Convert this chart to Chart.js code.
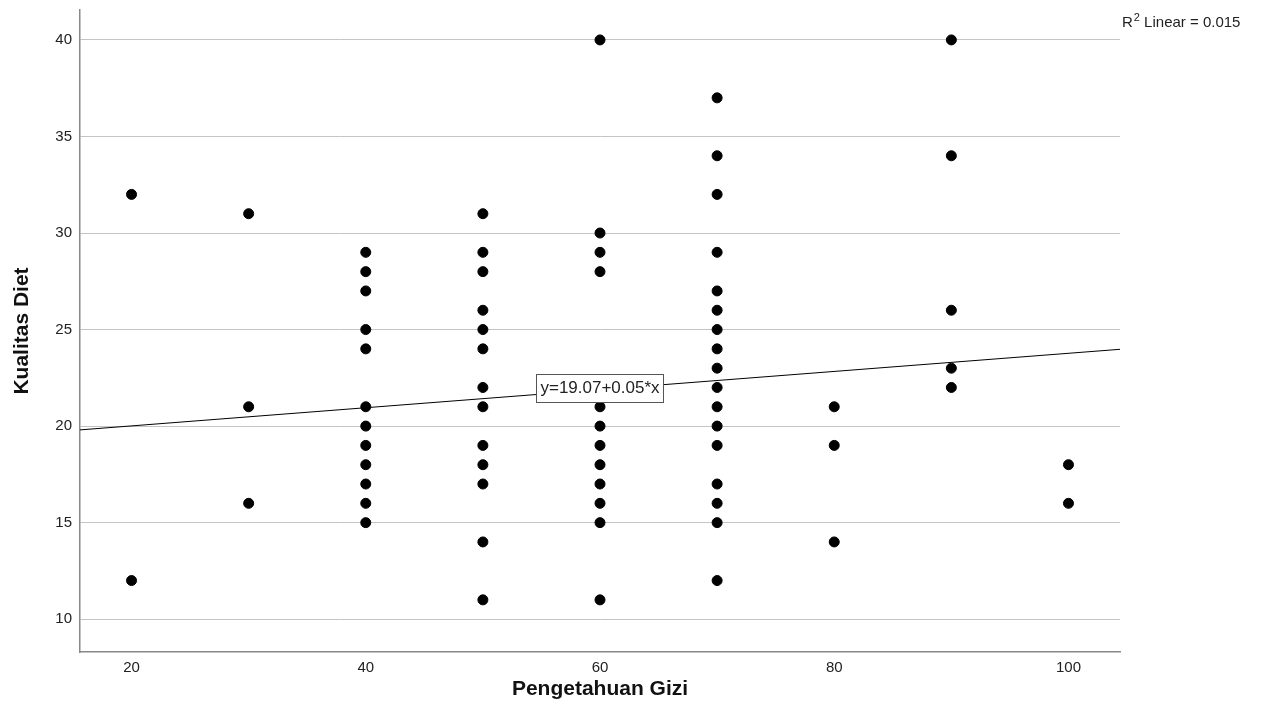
<!DOCTYPE html>
<html>
<head>
<meta charset="utf-8">
<script src="https://cdn.jsdelivr.net/npm/chart.js@4/dist/chart.umd.min.js"></script>
<style>
  html, body { margin: 0; padding: 0; background: #fff; }
  #wrap { width: 1261px; height: 726px; }
</style>
</head>
<body>
<div id="wrap"><canvas id="scatter"></canvas></div>
<script>
// data
const knowledge = [
  20, 20,
  30, 30, 30,
  40, 40, 40, 40, 40, 40, 40, 40, 40, 40, 40, 40,
  50, 50, 50, 50, 50, 50, 50, 50, 50, 50, 50, 50, 50,
  60, 60, 60, 60, 60, 60, 60, 60, 60, 60, 60, 60,
  70, 70, 70, 70, 70, 70, 70, 70, 70, 70, 70, 70, 70, 70, 70, 70, 70,
  80, 80, 80,
  90, 90, 90, 90, 90,
  100, 100
];
const dietQuality = [
  32, 12,
  31, 21, 16,
  29, 28, 27, 25, 24, 21, 20, 19, 18, 17, 16, 15,
  31, 29, 28, 26, 25, 24, 22, 21, 19, 18, 17, 14, 11,
  40, 30, 29, 28, 21, 20, 19, 18, 17, 16, 15, 11,
  37, 34, 32, 29, 27, 26, 25, 24, 23, 22, 21, 20, 19, 17, 16, 15, 12,
  21, 19, 14,
  40, 34, 26, 23, 22,
  18, 16
];
const xTicks = [20, 40, 60, 80, 100];
const yTicks = [10, 15, 20, 25, 30, 35, 40];
const xRange = [15.6, 104.4];
const yRange = [8.3, 41.55];
const fitIntercept = 19.07;
const fitSlope = 0.047;
const fitLabel = 'y=19.07+0.05*x';

const points = knowledge.map((x, i) => ({ x: x, y: dietQuality[i] }));
const fitLine = xRange.map(x => ({ x: x, y: fitIntercept + fitSlope * x }));

const labelsPlugin = {
  id: 'labels',
  afterDatasetsDraw(chart) {
    const ctx = chart.ctx;
    const xs = chart.scales.x, ys = chart.scales.y;
    // equation box on the fit line at x = 60
    const cx = xs.getPixelForValue(60);
    const cy = ys.getPixelForValue(fitIntercept + fitSlope * 60) - 2;
    ctx.save();
    ctx.font = '17px "Liberation Sans", Arial, sans-serif';
    const w = Math.round(ctx.measureText(fitLabel).width + 8);
    const h = 28;
    const bx = Math.round(cx - w / 2), by = Math.round(cy - h / 2);
    ctx.fillStyle = '#fff';
    ctx.fillRect(bx, by, w, h);
    ctx.strokeStyle = '#555';
    ctx.lineWidth = 1;
    ctx.strokeRect(bx + 0.5, by + 0.5, w, h);
    ctx.fillStyle = '#222';
    ctx.textAlign = 'center';
    ctx.textBaseline = 'middle';
    ctx.fillText(fitLabel, cx, cy + 1);
    // R squared note, top right
    const tx = chart.chartArea.right + 2;
    ctx.textAlign = 'left';
    ctx.textBaseline = 'alphabetic';
    ctx.font = '15px "Liberation Sans", Arial, sans-serif';
    ctx.fillText('R', tx, 27);
    const rw = ctx.measureText('R').width;
    ctx.font = '11px "Liberation Sans", Arial, sans-serif';
    ctx.fillText('2', tx + rw + 1, 21);
    const sw = ctx.measureText('2').width;
    ctx.font = '15px "Liberation Sans", Arial, sans-serif';
    ctx.fillText(' Linear = 0.015', tx + rw + sw + 1, 27);
    ctx.restore();
  }
};

new Chart(document.getElementById('scatter').getContext('2d'), {
  type: 'scatter',
  data: {
    datasets: [
      {
        data: points,
        backgroundColor: '#000',
        borderColor: '#000',
        pointRadius: 5,
        pointHoverRadius: 5
      },
      {
        type: 'line',
        data: fitLine,
        borderColor: '#000',
        borderWidth: 1,
        pointRadius: 0,
        fill: false
      }
    ]
  },
  options: {
    responsive: true,
    maintainAspectRatio: false,
    animation: false,
    layout: { padding: { top: 10, right: 141, left: 0, bottom: 0 } },
    plugins: {
      legend: { display: false },
      tooltip: { enabled: false }
    },
    scales: {
      x: {
        type: 'linear',
        min: xRange[0],
        max: xRange[1],
        afterBuildTicks: axis => { axis.ticks = xTicks.map(v => ({ value: v })); },
        afterFit: axis => { axis.height = 74; axis.paddingLeft = 0; axis.paddingRight = 0; },
        grid: { display: false, drawTicks: false },
        border: { color: '#888', width: 1.5 },
        ticks: {
          color: '#222',
          padding: 7,
          font: { family: '"Liberation Sans", Arial, sans-serif', size: 15 }
        },
        title: {
          display: true,
          text: 'Pengetahuan Gizi',
          color: '#111',
          padding: { top: 0, bottom: 24 },
          font: { family: '"Liberation Sans", Arial, sans-serif', size: 21, weight: 'bold' }
        }
      },
      y: {
        type: 'linear',
        min: yRange[0],
        max: yRange[1],
        afterBuildTicks: axis => { axis.ticks = yTicks.map(v => ({ value: v })); },
        afterFit: axis => { axis.width = 80; axis.paddingTop = 0; axis.paddingBottom = 0; },
        grid: { color: '#c4c4c4', lineWidth: 1, drawTicks: false },
        border: { color: '#888', width: 1.5 },
        ticks: {
          color: '#222',
          padding: 8,
          font: { family: '"Liberation Sans", Arial, sans-serif', size: 15 }
        },
        title: {
          display: true,
          text: 'Kualitas Diet',
          color: '#111',
          padding: { top: 10, bottom: 0 },
          font: { family: '"Liberation Sans", Arial, sans-serif', size: 21, weight: 'bold' }
        }
      }
    }
  },
  plugins: [labelsPlugin]
});
</script>
</body>
</html>
